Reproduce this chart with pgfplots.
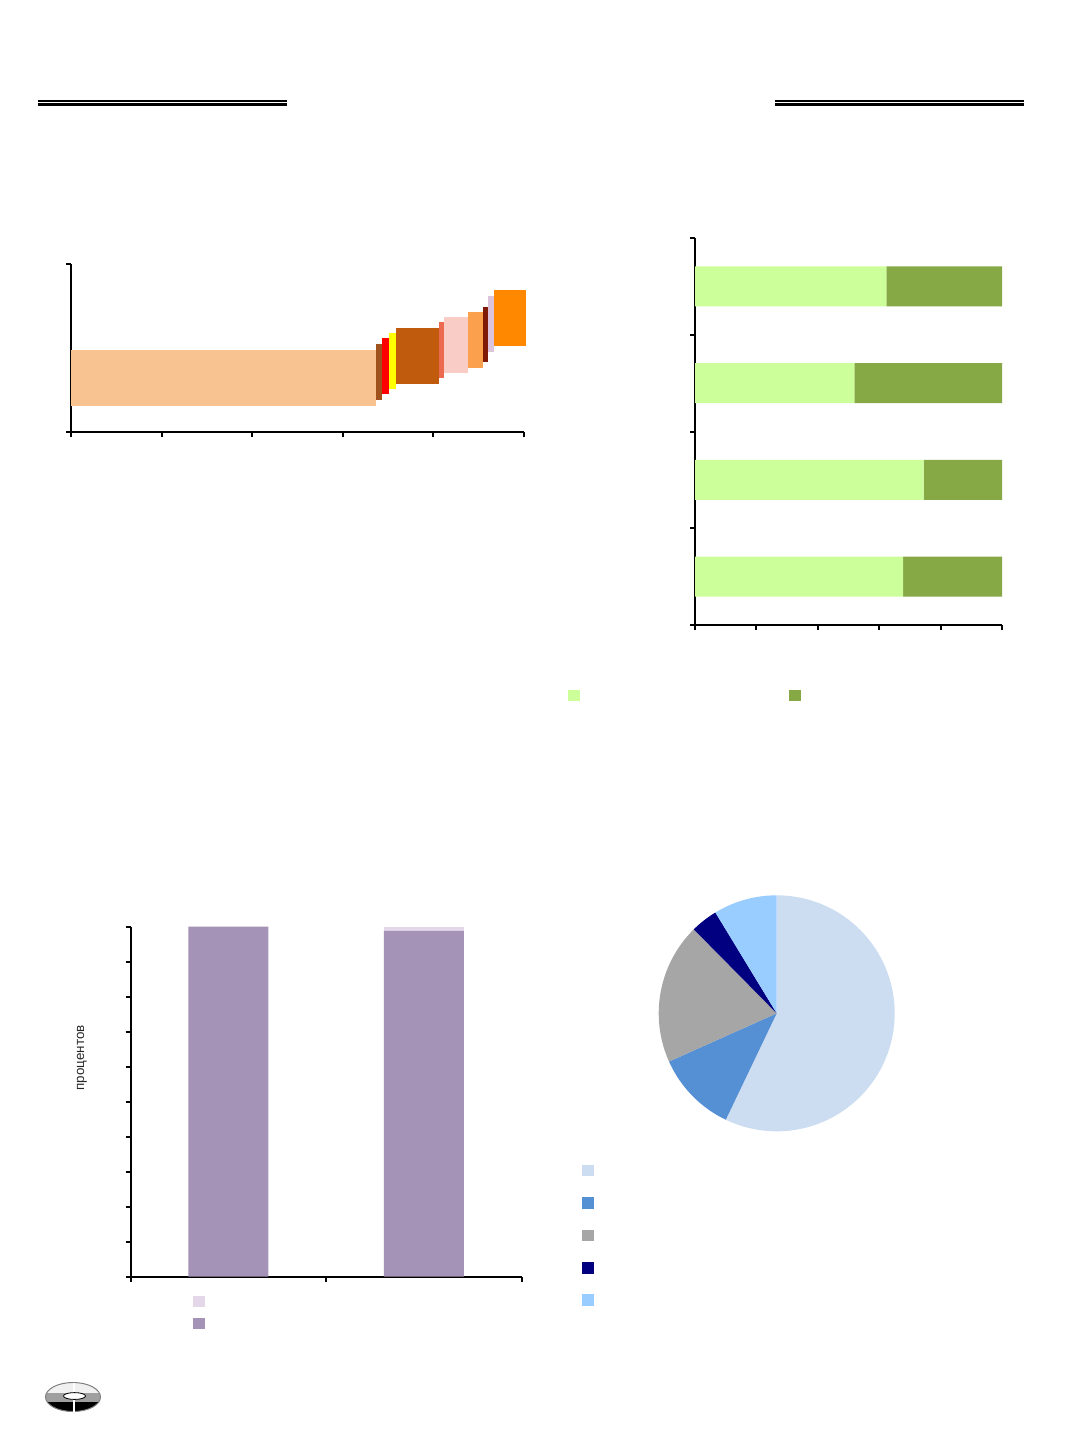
\documentclass[border=0pt]{standalone}
\usepackage{fontspec}
\setmainfont{Liberation Sans}
\usepackage{pgfplots}
\pgfplotsset{compat=1.18}
\definecolor{cA}{HTML}{F9C291}
\definecolor{cB}{HTML}{A0521C}
\definecolor{cC}{HTML}{FF0000}
\definecolor{cD}{HTML}{FFFF00}
\definecolor{cE}{HTML}{C05A0C}
\definecolor{cF}{HTML}{EB6A50}
\definecolor{cG}{HTML}{F9CCC6}
\definecolor{cH}{HTML}{FBA04C}
\definecolor{cI}{HTML}{7F1A06}
\definecolor{cJ}{HTML}{DCC4DC}
\definecolor{cK}{HTML}{FF8800}
\definecolor{lgreen}{HTML}{CCFF99}
\definecolor{dgreen}{HTML}{86A845}
\definecolor{purp}{HTML}{A592B7}
\definecolor{lpurp}{HTML}{E4D7EA}
\definecolor{p1}{HTML}{CCDDF2}
\definecolor{p2}{HTML}{5590D5}
\definecolor{p3}{HTML}{A6A6A6}
\definecolor{p4}{HTML}{000080}
\definecolor{p5}{HTML}{99CCFF}
\pgfplotsset{
  myax/.style={
    scale only axis,
    axis x line=bottom, axis y line=left,
    axis line style={line width=1pt,-,black},
    every outer x axis line/.append style={-},
    every outer y axis line/.append style={-},
    tick style={line width=1pt,black},
    major tick length=2.5pt,
    tick align=outside,
    xtick pos=bottom, ytick pos=left,
    xticklabels={}, yticklabels={},
    clip=false,
  },
  legbox/.style={legend style={draw=none, fill=none, inner sep=0pt, outer sep=0pt,
     nodes={inner sep=0pt, outer sep=0pt}, column sep=0pt}},
}
\begin{document}
\begin{tikzpicture}
\path[use as bounding box] (0,0) rectangle (536pt,-716.5pt);
% header rules
\draw[line width=0.6pt] (18.85pt,-50.5pt) -- (143.65pt,-50.5pt);
\draw[line width=1.4pt] (18.85pt,-52.35pt) -- (143.65pt,-52.35pt);
\draw[line width=0.6pt] (387.5pt,-50.5pt) -- (512pt,-50.5pt);
\draw[line width=1.4pt] (387.5pt,-52.35pt) -- (512pt,-52.35pt);

% Chart 1
\begin{axis}[myax, at={(35.5pt,-216pt)}, anchor=south west,
  width=226.5pt, height=84pt, xmin=0, xmax=100, ymin=0, ymax=100,
  xtick={0,20,40,60,80,100}, ytick={0,100}]
\addplot[fill=cA, draw=none] coordinates {(0,15.7) (67.4,15.7) (67.4,48.8) (0,48.8)};
\addplot[fill=cB, draw=none] coordinates {(67.4,19.0) (68.6,19.0) (68.6,52.2) (67.4,52.2)};
\addplot[fill=cC, draw=none] coordinates {(68.6,22.4) (70.1,22.4) (70.1,55.8) (68.6,55.8)};
\addplot[fill=cD, draw=none] coordinates {(70.1,25.4) (71.8,25.4) (71.8,58.8) (70.1,58.8)};
\addplot[fill=cE, draw=none] coordinates {(71.8,28.6) (81.2,28.6) (81.2,62.1) (71.8,62.1)};
\addplot[fill=cF, draw=none] coordinates {(81.2,32.0) (82.3,32.0) (82.3,65.3) (81.2,65.3)};
\addplot[fill=cG, draw=none] coordinates {(82.3,35.3) (87.7,35.3) (87.7,68.3) (82.3,68.3)};
\addplot[fill=cH, draw=none] coordinates {(87.7,38.3) (90.9,38.3) (90.9,71.6) (87.7,71.6)};
\addplot[fill=cI, draw=none] coordinates {(90.9,41.5) (92.1,41.5) (92.1,74.6) (90.9,74.6)};
\addplot[fill=cJ, draw=none] coordinates {(92.1,47.8) (93.4,47.8) (93.4,81.1) (92.1,81.1)};
\addplot[fill=cK, draw=none] coordinates {(93.4,51.2) (100.4,51.2) (100.4,84.5) (93.4,84.5)};
\end{axis}

% Chart 2
\begin{axis}[myax, legbox, xbar stacked, at={(347.5pt,-312.5pt)}, anchor=south west,
  width=153.5pt, height=193.5pt, xmin=0, xmax=100, ymin=0.5, ymax=4.5,
  xtick={0,20,40,60,80,100}, ytick={0.5,1.5,2.5,3.5,4.5}, bar width=0.413,
  legend columns=2,
  legend style={at={(axis description cs:-0.4127,-0.1817)}, anchor=west}]
\addplot[fill=lgreen, draw=none, forget plot] coordinates {(67.8,1) (74.5,2) (51.9,3) (62.3,4)};
\addplot[fill=dgreen, draw=none, forget plot] coordinates {(32.2,1) (25.5,2) (48.1,3) (37.7,4)};
\addlegendimage{legend image code/.code={\fill[lgreen] (0pt,-2.65pt) rectangle (5.3pt,2.65pt);}}
\addlegendentry{\hspace*{104.7pt}}
\addlegendimage{legend image code/.code={\fill[dgreen] (0pt,-2.65pt) rectangle (5.3pt,2.65pt);}}
\addlegendentry{}
\end{axis}

% Chart 3
\begin{axis}[myax, legbox, ybar stacked, at={(65.35pt,-638.35pt)}, anchor=south west,
  width=195.5pt, height=175pt, xmin=0, xmax=2, ymin=0, ymax=100,
  xtick={0,1,2}, ytick={0,10,...,100}, bar width=0.409,
  ylabel={процентов},
  ylabel style={at={(axis description cs:-0.1246,0.625)}, anchor=center,
     font=\fontsize{6.7}{8}\selectfont, text=black!85},
  legend style={at={(axis description cs:0.1601,-0.0543)}, anchor=north west, row sep=5.2pt}]
\addplot[fill=purp, draw=none, forget plot] coordinates {(0.5,100) (1.5,98.8)};
\addplot[fill=lpurp, draw=none, forget plot] coordinates {(0.5,0) (1.5,1.2)};
\addlegendimage{legend image code/.code={\fill[lpurp] (0pt,-2.65pt) rectangle (5.3pt,2.65pt);}}
\addlegendentry{}
\addlegendimage{legend image code/.code={\fill[purp] (0pt,-2.65pt) rectangle (5.3pt,2.65pt);}}
\addlegendentry{}
\end{axis}

% Chart 4 (pie)
\begin{axis}[legbox, hide axis, scale only axis, at={(388.35pt,-506.65pt)}, anchor=center,
  width=118pt, height=118pt, xmin=-1, xmax=1, ymin=-1, ymax=1, clip=false,
  legend style={at={(axis description cs:-0.325,-0.1415)}, anchor=north west, row sep=10.5pt}]
\addlegendimage{legend image code/.code={\fill[p1] (0pt,-2.65pt) rectangle (5.3pt,2.65pt);}}
\addlegendentry{}
\addlegendimage{legend image code/.code={\fill[p2] (0pt,-2.65pt) rectangle (5.3pt,2.65pt);}}
\addlegendentry{}
\addlegendimage{legend image code/.code={\fill[p3] (0pt,-2.65pt) rectangle (5.3pt,2.65pt);}}
\addlegendentry{}
\addlegendimage{legend image code/.code={\fill[p4] (0pt,-2.65pt) rectangle (5.3pt,2.65pt);}}
\addlegendentry{}
\addlegendimage{legend image code/.code={\fill[p5] (0pt,-2.65pt) rectangle (5.3pt,2.65pt);}}
\addlegendentry{}
\fill[p1] (axis cs:0,0) -- ++({90}:59pt) arc[start angle={90}, end angle={90-3.6*57.1}, radius=59pt] -- cycle;
\fill[p2] (axis cs:0,0) -- ++({90-3.6*57.1}:59pt) arc[start angle={90-3.6*57.1}, end angle={90-3.6*68.3}, radius=59pt] -- cycle;
\fill[p3] (axis cs:0,0) -- ++({90-3.6*68.3}:59pt) arc[start angle={90-3.6*68.3}, end angle={90-3.6*87.6}, radius=59pt] -- cycle;
\fill[p4] (axis cs:0,0) -- ++({90-3.6*87.6}:59pt) arc[start angle={90-3.6*87.6}, end angle={90-3.6*91.3}, radius=59pt] -- cycle;
\fill[p5] (axis cs:0,0) -- ++({90-3.6*91.3}:59pt) arc[start angle={90-3.6*91.3}, end angle={90-3.6*100}, radius=59pt] -- cycle;
\end{axis}

% logo
\begin{scope}[shift={(36.5pt,-698.5pt)}]
  \begin{scope}
    \clip (-14pt,7.5pt) rectangle (14pt,1.7pt);
    \fill[gray!12] (0,0) ellipse (13.75pt and 7.25pt);
  \end{scope}
  \begin{scope}
    \clip (-14pt,1.7pt) rectangle (14pt,-2.5pt);
    \fill[gray!75] (0,0) ellipse (13.75pt and 7.25pt);
  \end{scope}
  \begin{scope}
    \clip (-14pt,-2.5pt) rectangle (14pt,-8pt);
    \fill[black] (0,0) ellipse (13.75pt and 7.25pt);
  \end{scope}
  \draw[gray, line width=0.5pt] (0,0) ellipse (13.75pt and 7.25pt);
  \draw[white, line width=0.6pt] (0.5pt,7.25pt) -- (0.5pt,-7.25pt);
  \fill[white] (0.75pt,0.5pt) ellipse (5.5pt and 1.7pt);
  \draw[black, line width=0.4pt] (0.75pt,0.5pt) ellipse (5.5pt and 1.7pt);
\end{scope}
\end{tikzpicture}
\end{document}
